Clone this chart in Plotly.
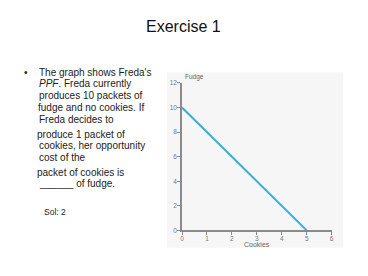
import plotly.graph_objects as go

W, H = 368, 276

cookies = [0, 5]
fudge = [10, 0]
x_ticks = [0, 1, 2, 3, 4, 5, 6]
y_ticks = [0, 2, 4, 6, 8, 10, 12]

title_text = "Exercise 1"
body_lines = [
    ("The graph shows Freda's", 36.7, 70.5),
    ("<i>PPF</i>. Freda currently", 36.3, 82.0),
    ("produces 10 packets of", 36.3, 94.3),
    ("fudge and no cookies. If", 35.6, 106.0),
    ("Freda decides to", 36.3, 118.3),
    ("produce 1 packet of", 34.3, 134.0),
    ("cookies, her opportunity", 36.0, 145.6),
    ("cost of the", 36.0, 157.0),
    ("packet of cookies is", 34.0, 172.6),
    ("______ of fudge.", 36.0, 184.6),
]
sol_text = "Sol: 2"

def px(x):
    return x / W

def py(y):
    return 1 - y / H

FONT = "Arial, Liberation Sans, sans-serif"

fig = go.Figure()
fig.add_trace(go.Scatter(
    x=cookies, y=fudge, mode="lines",
    line=dict(color="#3aaed8", width=2),
    hoverinfo="skip", showlegend=False,
))

annotations = []
annotations.append(dict(text=title_text, x=px(183.5), y=py(23.5), xref="paper", yref="paper",
                        xanchor="center", yanchor="middle", showarrow=False, borderpad=0,
                        font=dict(family=FONT, size=16, color="#111111")))
annotations.append(dict(text="•", x=px(21.5), y=py(70.5), xref="paper", yref="paper",
                        xanchor="left", yanchor="middle", showarrow=False, borderpad=0,
                        font=dict(family=FONT, size=10, color="#222222")))
for txt, x, y in body_lines:
    annotations.append(dict(text=txt, x=px(x), y=py(y), xref="paper", yref="paper",
                            xanchor="left", yanchor="middle", showarrow=False, borderpad=0,
                            font=dict(family=FONT, size=10, color="#222222")))
annotations.append(dict(text=sol_text, x=px(41), y=py(213.3), xref="paper", yref="paper",
                        xanchor="left", yanchor="middle", showarrow=False, borderpad=0,
                        font=dict(family=FONT, size=8.5, color="#222222")))
annotations.append(dict(text="Fudge", x=px(184), y=py(75), xref="paper", yref="paper",
                        xanchor="left", yanchor="middle", showarrow=False, borderpad=0,
                        font=dict(family=FONT, size=6.5, color="#666666")))
annotations.append(dict(text="Cookies", x=px(257.5), y=py(246.5), xref="paper", yref="paper",
                        xanchor="center", yanchor="middle", showarrow=False, borderpad=0,
                        font=dict(family=FONT, size=7, color="#666666")))

fig.update_layout(
    width=W, height=H,
    margin=dict(l=0, r=0, t=0, b=0),
    paper_bgcolor="white",
    plot_bgcolor="rgba(0,0,0,0)",
    showlegend=False,
    annotations=annotations,
    shapes=[dict(type="rect", xref="paper", yref="paper",
                 x0=px(167), x1=px(345), y0=py(250), y1=py(70),
                 fillcolor="#f6f6f6", line=dict(width=0), layer="below")],
    xaxis=dict(domain=[px(182), px(333.3)], range=[0, 6], tickvals=x_ticks,
               showgrid=False, zeroline=False, showline=True, linecolor="#8a8a8a", linewidth=1.5,
               ticks="outside", ticklen=3, tickcolor="#8a8a8a", tickwidth=1,
               ticklabelstandoff=-2,
               tickfont=dict(family=FONT, size=6.5, color="#777777"), fixedrange=True),
    yaxis=dict(domain=[py(232.3), py(81)], range=[0, 12], tickvals=y_ticks,
               showgrid=False, zeroline=False, showline=True, linecolor="#8a8a8a", linewidth=1.5,
               ticks="outside", ticklen=3, tickcolor="#8a8a8a", tickwidth=1,
               ticklabelstandoff=-1,
               tickfont=dict(family=FONT, size=6.5, color="#777777"), fixedrange=True),
)

fig.write_html("out.html", config={"displayModeBar": False})
